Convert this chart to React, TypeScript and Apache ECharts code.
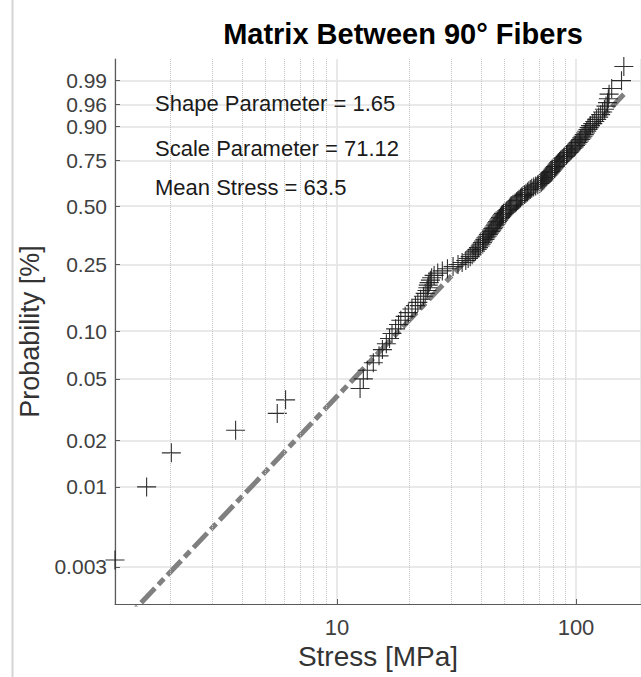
import React, { useEffect, useRef } from 'react';
import * as echarts from 'echarts';

// Sorted stress values [MPa] (150 specimens)
const stress = [
  1.18, 1.6, 2.03, 3.77, 5.63, 6.1,
  12.5, 12.9, 13.4, 14.2, 15.0, 15.5, 16.1, 16.6, 17.0, 17.6,
  18.1, 18.5, 19.3, 19.9, 20.6, 21.3, 21.8, 22.4, 23.0, 23.4,
  23.8, 24.0, 24.1, 24.3, 24.6, 24.9, 25.5, 26.4, 27.6, 29.0,
  30.6, 32.1, 33.4, 34.6, 35.4, 36.1, 36.8, 37.4, 38.0, 38.6,
  39.1, 39.7, 40.1, 40.6, 41.0, 41.6, 42.0, 42.5, 43.0, 43.4,
  44.0, 44.4, 44.9, 45.3, 45.8, 46.2, 46.6, 47.0, 47.5, 47.9,
  48.3, 48.8, 49.2, 49.7, 50.5, 51.3, 52.0, 52.6, 53.1, 53.6,
  54.5, 55.6, 56.4, 57.1, 57.8, 58.6, 59.3, 60.1, 61.0, 61.8,
  62.7, 63.5, 64.4, 65.3, 66.5, 67.8, 69.2, 70.6, 71.6, 72.5,
  73.3, 74.0, 74.8, 75.5, 76.3, 77.1, 77.9, 78.7, 79.5, 80.3,
  81.1, 81.9, 82.8, 83.6, 84.4, 85.3, 86.3, 87.5, 88.8, 90.0,
  91.2, 92.3, 93.5, 94.6, 95.8, 97.0, 98.3, 99.5, 100.8, 102.0,
  103.3, 104.6, 105.8, 107.0, 108.3, 109.6, 110.9, 112.2, 113.5, 115.0,
  117.5, 119.8, 122.0, 124.4, 126.8, 129.2, 131.5, 133.5, 135.5, 136.5,
  137.5, 141.0, 155.0, 158.5,
];

const probTickValues = [0.003, 0.01, 0.02, 0.05, 0.1, 0.25, 0.5, 0.75, 0.9, 0.96, 0.99];
const probTickLabels = ['0.003', '0.01', '0.02', '0.05', '0.10', '0.25', '0.50', '0.75', '0.90', '0.96', '0.99'];
const minorStressGrid = [2, 3, 4, 5, 6, 7, 8, 9, 20, 30, 40, 50, 60, 70, 80, 90];

const shapeParam = 1.65;
const scaleParam = 71.12;
const meanStress = 63.5;

const stressMin = 1.18;
const stressMax = 187;
const probMin = 0.0017175;
const probMax = 0.998314;

const titleText = 'Matrix Between 90° Fibers';
const xName = 'Stress [MPa]';
const yName = 'Probability [%]';

// Weibull probability-paper scale
const weib = (p: number) => Math.log(-Math.log(1 - p));

const FONT = '"Liberation Sans", Arial, Helvetica, sans-serif';

export default function App() {
  const ref = useRef<HTMLDivElement>(null);

  useEffect(() => {
    document.body.style.margin = '0';
    if (!ref.current) return;
    const chart = echarts.init(ref.current, undefined, { renderer: 'svg' });

    const n = stress.length;
    const points = stress.map((s, k) => [s, weib((k + 0.5) / n)]);
    const lastStress = stress[n - 1];
    const fitLine = [
      [stressMin, shapeParam * Math.log(stressMin / scaleParam)],
      [lastStress, shapeParam * Math.log(lastStress / scaleParam)],
    ];
    const yTicks = probTickValues.map(weib);
    const yLabel = (v: number) => {
      let best = 0;
      for (let i = 1; i < yTicks.length; i++) {
        if (Math.abs(yTicks[i] - v) < Math.abs(yTicks[best] - v)) best = i;
      }
      return probTickLabels[best];
    };

    const axisColor = '#5a5a5a';
    const gridColor = '#e2e2e2';

    chart.setOption({
      animation: false,
      grid: { left: 115, top: 59, right: 0, bottom: 73, containLabel: false },
      xAxis: {
        type: 'log',
        logBase: 10,
        min: stressMin,
        max: stressMax,
        name: xName,
        nameLocation: 'middle',
        nameGap: 36,
        nameTextStyle: { fontFamily: FONT, fontSize: 28, color: '#333' },
        axisLine: { show: true, onZero: false, lineStyle: { color: axisColor, width: 1.2 } },
        axisTick: { show: true, inside: true, length: 5, lineStyle: { color: axisColor } },
        axisLabel: {
          showMinLabel: false,
          showMaxLabel: false,
          fontFamily: FONT,
          fontSize: 22,
          color: '#404040',
          margin: 12,
        },
        splitLine: { show: true, lineStyle: { color: gridColor, width: 1.5 } },
        minorTick: { show: false },
        minorSplitLine: { show: false },
      },
      yAxis: {
        type: 'value',
        min: weib(probMin),
        max: weib(probMax),
        name: yName,
        nameLocation: 'middle',
        nameGap: 60,
        nameTextStyle: { fontFamily: FONT, fontSize: 27, color: '#333' },
        axisLine: { show: true, onZero: false, lineStyle: { color: axisColor, width: 1.2 } },
        axisTick: {
          show: true,
          inside: true,
          length: 5,
          customValues: yTicks,
          lineStyle: { color: axisColor },
        },
        axisLabel: {
          customValues: yTicks,
          formatter: (v: number) => yLabel(v),
          fontFamily: FONT,
          fontSize: 21,
          color: '#404040',
          margin: 8,
        },
        splitLine: { show: true, lineStyle: { color: gridColor, width: 1.5 } },
      },
      graphic: [
        {
          type: 'line',
          shape: { x1: 12.5, y1: 0, x2: 12.5, y2: 677 },
          style: { stroke: '#d4d4d4', lineWidth: 2 },
          silent: true,
        },
        {
          type: 'text',
          x: 403,
          y: 34,
          style: {
            text: titleText,
            font: `bold 29px ${FONT}`,
            fill: '#000',
            align: 'center',
            verticalAlign: 'middle',
          },
        },
        {
          type: 'text',
          x: 155,
          y: 103,
          z: 10,
          style: {
            text: `Shape Parameter = ${shapeParam.toFixed(2)}`,
            font: `22px ${FONT}`,
            fill: '#1a1a1a',
            align: 'left',
            verticalAlign: 'middle',
          },
        },
        {
          type: 'text',
          x: 155,
          y: 148,
          z: 10,
          style: {
            text: `Scale Parameter = ${scaleParam.toFixed(2)}`,
            font: `22px ${FONT}`,
            fill: '#1a1a1a',
            align: 'left',
            verticalAlign: 'middle',
          },
        },
        {
          type: 'text',
          x: 155,
          y: 187,
          z: 10,
          style: {
            text: `Mean Stress = ${meanStress.toFixed(1)}`,
            font: `22px ${FONT}`,
            fill: '#1a1a1a',
            align: 'left',
            verticalAlign: 'middle',
          },
        },
      ],
      series: [
        {
          name: 'minor grid',
          type: 'line',
          data: [],
          z: 1,
          silent: true,
          markLine: {
            silent: true,
            symbol: ['none', 'none'],
            label: { show: false },
            lineStyle: { type: 'dotted', color: '#c4c4c4', width: 1 },
            data: minorStressGrid.map((v) => ({ xAxis: v })),
          },
        },
        {
          name: 'Weibull fit',
          type: 'line',
          data: fitLine,
          z: 2,
          clip: true,
          showSymbol: false,
          symbol: 'none',
          lineStyle: { color: '#808080', width: 5, type: [20, 5, 8, 5] },
        },
        {
          name: 'Data',
          type: 'scatter',
          data: points,
          z: 3,
          clip: false,
          symbol: 'path://M10 0 L10 20 M0 10 L20 10',
          symbolSize: 19,
          itemStyle: {
            color: 'transparent',
            borderColor: '#1a1a1a',
            borderWidth: 1.1,
            opacity: 0.9,
          },
        },
      ],
    });

    return () => chart.dispose();
  }, []);

  return <div ref={ref} style={{ width: 641, height: 677 }} />;
}
